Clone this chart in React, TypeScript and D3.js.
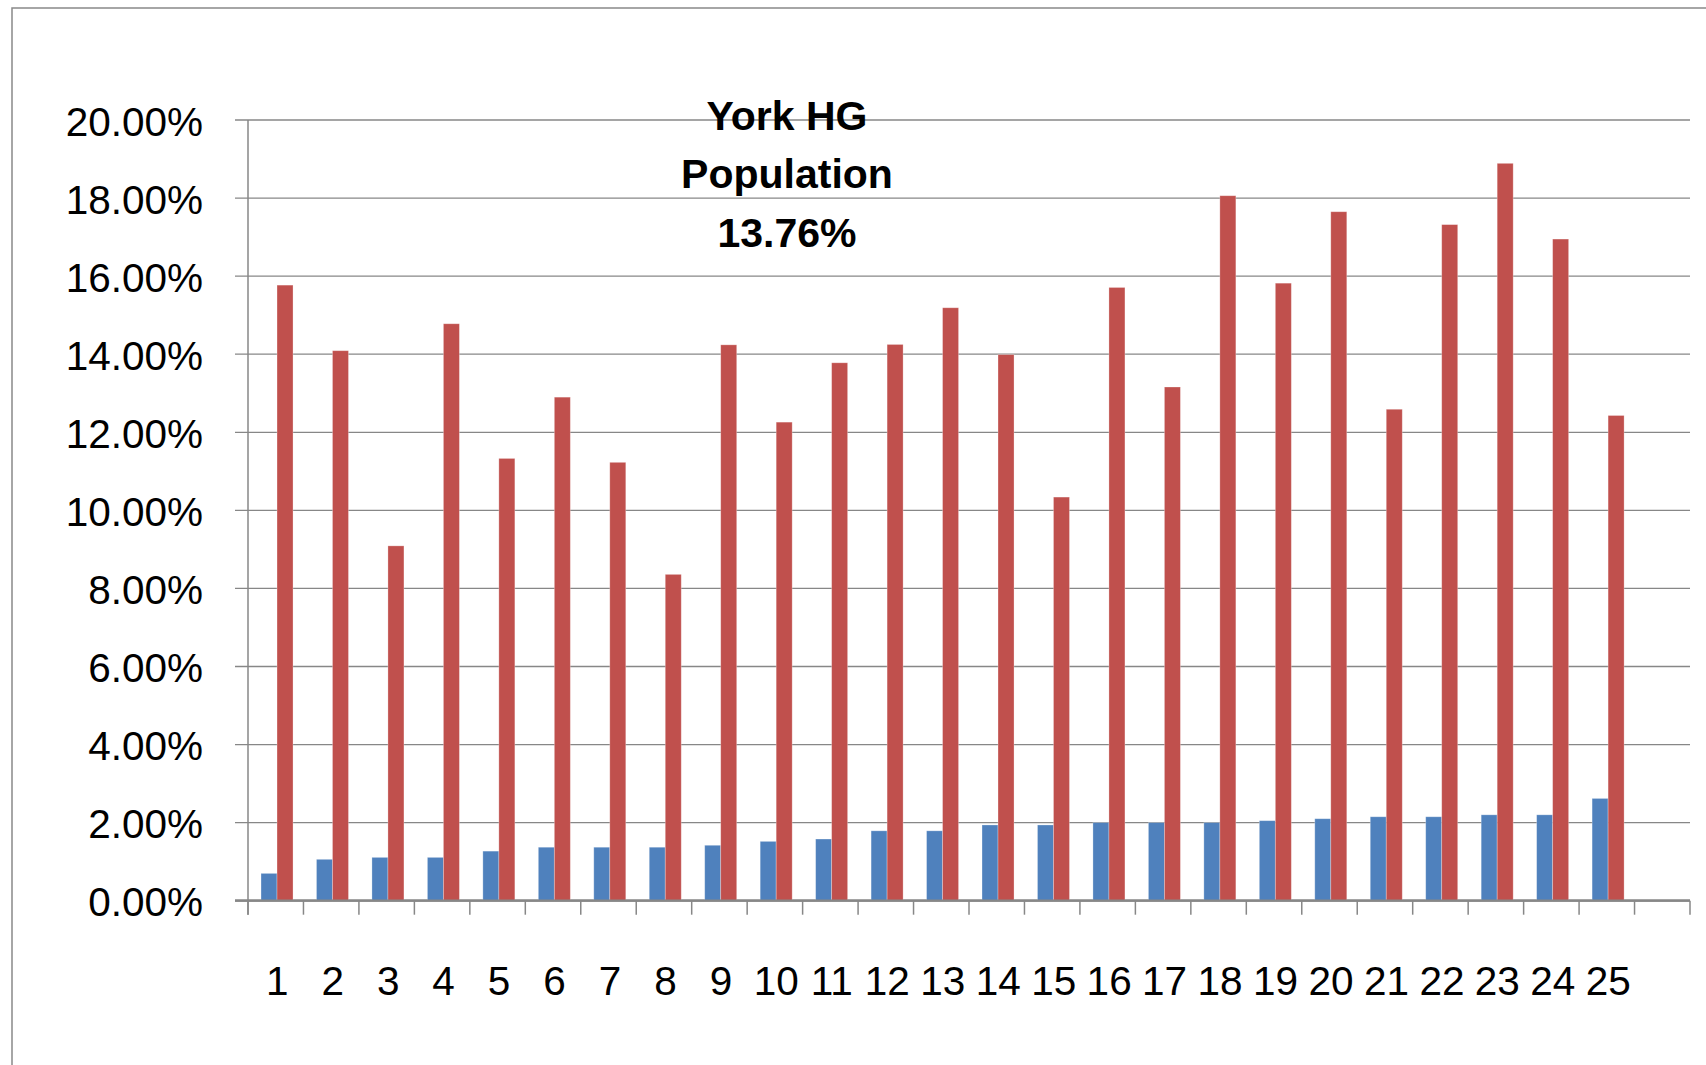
import React from "react";
import * as d3 from "d3";

const categories = Array.from({ length: 25 }, (_, i) => String(i + 1));
// trailing empty category slot shown on the axis
const emptySlot = [""];

const seriesBlue = [
  0.7, 1.06, 1.11, 1.11, 1.27, 1.37, 1.37, 1.37, 1.42, 1.52, 1.58, 1.79, 1.79,
  1.94, 1.94, 2.0, 2.0, 2.0, 2.05, 2.1, 2.15, 2.15, 2.2, 2.2, 2.62,
];
const seriesRed = [
  15.77, 14.09, 9.09, 14.78, 11.33, 12.9, 11.23, 8.36, 14.24, 12.26, 13.78,
  14.25, 15.19, 13.99, 10.34, 15.71, 13.16, 18.06, 15.82, 17.65, 12.59, 17.32,
  18.89, 16.95, 12.43,
];
const yTicks = [0, 2, 4, 6, 8, 10, 12, 14, 16, 18, 20];
const titleLines = ["York HG", "Population", "13.76%"];

const W = 1706;
const H = 1065;
const FONT = "'Liberation Sans', Arial, sans-serif";
const GRID = "#878787";
const BLUE = "#4F81BD";
const RED = "#C0504D";

export default function App() {
  const left = 248;
  const right = 1690;
  const top = 120;
  const bottom = 900.7;

  const domain = [...categories, ...emptySlot];
  const x = d3.scaleBand<string>().domain(domain).range([left, right]).padding(0);
  const series = ["blue", "red"];
  const x1 = d3
    .scaleBand<string>()
    .domain(series)
    .range([0, x.bandwidth()])
    .paddingInner(0)
    .paddingOuter(0.733)
    .align(0.555);
  const y = d3.scaleLinear().domain([0, 20]).range([bottom, top]);

  const step = x.step();
  const tickXs = d3.range(domain.length + 1).map((i) => left + i * step);

  return (
    <svg
      width={W}
      height={H}
      style={{ position: "absolute", left: 0, top: 0, background: "#fff" }}
    >
      <rect x={0} y={0} width={W} height={H} fill="#fff" />
      {/* outer chart border (extends beyond the image) */}
      <rect
        x={12}
        y={8}
        width={W + 20}
        height={H + 20}
        fill="none"
        stroke="#898989"
        strokeWidth={1.5}
      />
      {/* gridlines + left ticks */}
      {yTicks.map((t) => (
        <line
          key={"g" + t}
          x1={235}
          x2={right}
          y1={y(t)}
          y2={y(t)}
          stroke={GRID}
          strokeWidth={t === 0 ? 2.2 : 1.3}
        />
      ))}
      {/* y axis line */}
      <line x1={left} x2={left} y1={top} y2={bottom + 14} stroke={GRID} strokeWidth={1.5} />
      {/* x ticks */}
      {tickXs.map((tx, i) => (
        <line
          key={"t" + i}
          x1={tx}
          x2={tx}
          y1={bottom}
          y2={bottom + 14}
          stroke={GRID}
          strokeWidth={1.5}
        />
      ))}
      {/* bars */}
      {categories.map((c, i) => {
        const bx = x(c)!;
        return (
          <g key={"b" + c}>
            <rect
              x={bx + x1("blue")!}
              y={y(seriesBlue[i])}
              width={x1.bandwidth()}
              height={y(0) - y(seriesBlue[i])}
              fill={BLUE}
              stroke="#ffffff"
              strokeOpacity={0.35}
              strokeWidth={0.8}
            />
            <rect
              x={bx + x1("red")!}
              y={y(seriesRed[i])}
              width={x1.bandwidth()}
              height={y(0) - y(seriesRed[i])}
              fill={RED}
              stroke="#ffffff"
              strokeOpacity={0.35}
              strokeWidth={0.8}
            />
          </g>
        );
      })}
      {/* redraw x axis line on top */}
      <line x1={235} x2={right} y1={bottom} y2={bottom} stroke={GRID} strokeWidth={2.2} />
      {/* y labels */}
      {yTicks.map((t) => (
        <text
          key={"yl" + t}
          x={203}
          y={y(t) + 15.5}
          textAnchor="end"
          fontFamily={FONT}
          fontSize={40.5}
          fill="#000"
        >
          {t.toFixed(2) + "%"}
        </text>
      ))}
      {/* x labels */}
      {categories.map((c) => (
        <text
          key={"xl" + c}
          x={x(c)! + x.bandwidth() / 2 + 1.5}
          y={995}
          textAnchor="middle"
          fontFamily={FONT}
          fontSize={40.5}
          fill="#000"
        >
          {c}
        </text>
      ))}
      {/* title annotation */}
      {titleLines.map((l, i) => (
        <text
          key={"tl" + i}
          x={787}
          y={130 + i * 58.3}
          textAnchor="middle"
          fontFamily={FONT}
          fontWeight="bold"
          fontSize={41}
          fill="#000"
        >
          {l}
        </text>
      ))}
    </svg>
  );
}
